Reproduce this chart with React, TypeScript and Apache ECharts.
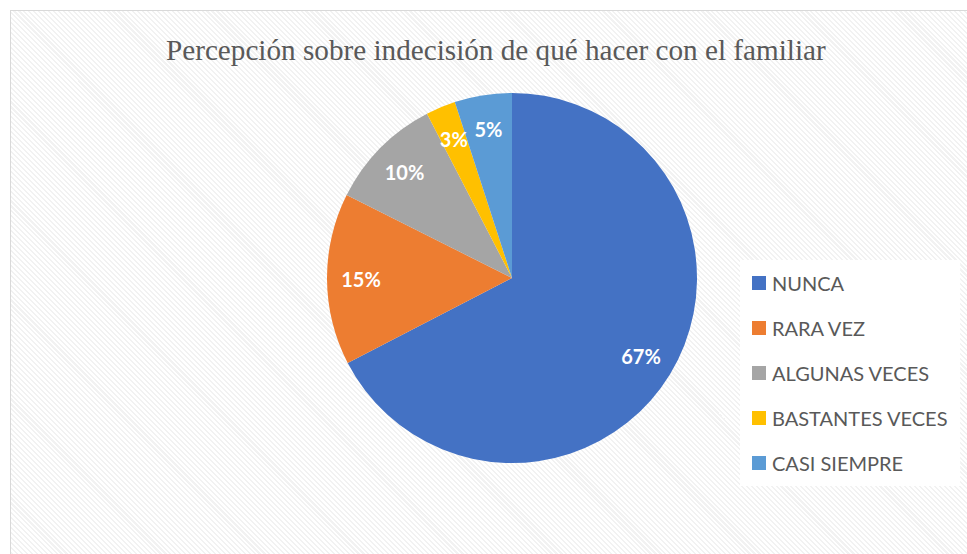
import React, { useEffect, useRef } from "react";
import * as echarts from "echarts";

const categories = ["NUNCA", "RARA VEZ", "ALGUNAS VECES", "BASTANTES VECES", "CASI SIEMPRE"];
const percentValues = [67.4, 15, 10, 2.6, 5];
const sliceColors = ["#4472C4", "#ED7D31", "#A5A5A5", "#FFC000", "#5B9BD5"];
const titleText = "Percepción sobre indecisión de qué hacer con el familiar";

export default function App() {
  const ref = useRef<HTMLDivElement>(null);
  useEffect(() => {
    if (!ref.current) return;
    const chart = echarts.init(ref.current, undefined, { renderer: "svg" });
    const data = categories.map((name, i) => ({
      name,
      value: percentValues[i],
      itemStyle: { color: sliceColors[i] },
    }));
    const center = [512, 278];
    const R = 185;
    chart.setOption({
      animation: false,
      backgroundColor: "transparent",
      title: {
        text: titleText,
        left: 161,
        top: 30,
        textStyle: {
          fontFamily: "Liberation Serif",
          fontWeight: "normal",
          fontSize: 29.2,
          color: "#595959",
        },
      },
      legend: {
        orient: "vertical",
        left: 740,
        top: 260,
        backgroundColor: "#ffffff",
        padding: [13, 12, 13, 12],
        itemWidth: 14,
        itemHeight: 14,
        itemGap: 25,
        icon: "rect",
        data: categories,
        selectedMode: false,
        textStyle: {
          fontFamily: "Lato",
          fontSize: 20,
          lineHeight: 20,
          color: "#595959",
          padding: [0, 0, 0, 1],
        },
      },
      series: [
        {
          type: "pie",
          center,
          radius: [0, R],
          startAngle: 90,
          clockwise: true,
          silent: true,
          label: { show: false },
          labelLine: { show: false },
          itemStyle: { borderWidth: 0 },
          data,
        },
        {
          type: "pie",
          center,
          radius: [R * 0.6, R],
          startAngle: 90,
          clockwise: true,
          silent: true,
          labelLine: { show: false },
          itemStyle: { color: "rgba(0,0,0,0)", borderWidth: 0 },
          label: {
            show: true,
            position: "inside",
            formatter: (p: any) => Math.round(p.percent) + "%",
            fontFamily: "Lato",
            fontWeight: "bold",
            fontSize: 20,
            color: "#ffffff",
          },
          data: categories.map((name, i) => ({ name, value: percentValues[i] })),
        },
      ],
    });
    return () => chart.dispose();
  }, []);
  return (
    <div style={{ position: "fixed", left: 0, top: 0, width: 967, height: 554, background: "#ffffff", overflow: "hidden" }}>
      <div
        style={{
          position: "absolute",
          left: 10,
          top: 10,
          width: 980,
          height: 580,
          border: "1px solid #d9d9d9",
          background:
            "repeating-linear-gradient(45deg, #ffffff 0px, #ffffff 2px, #f2f2f2 2px, #f2f2f2 3.5px)",
        }}
      />
      <div ref={ref} style={{ position: "absolute", left: 0, top: 0, width: 967, height: 554 }} />
    </div>
  );
}
